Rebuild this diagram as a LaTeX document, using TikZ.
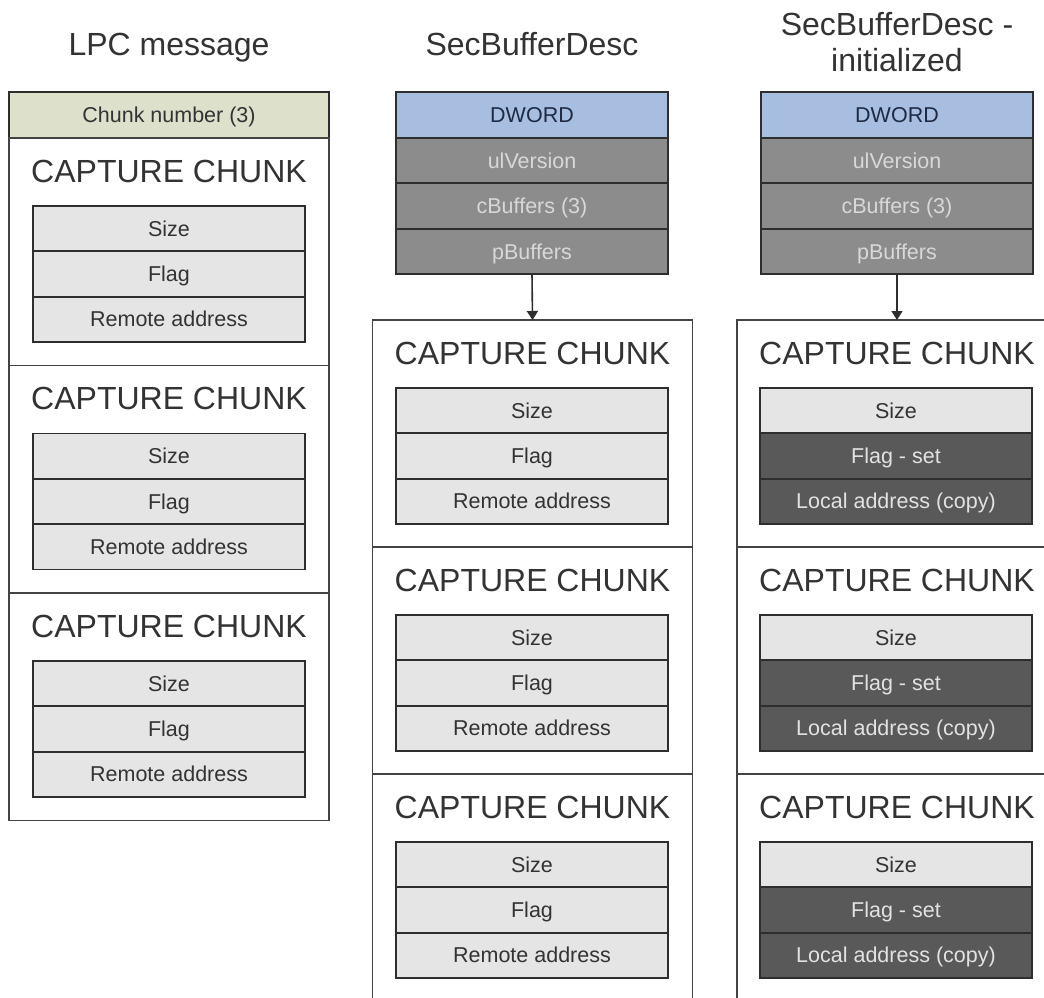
\documentclass[tikz,border=0pt]{standalone}
\usepackage{fontspec}
\setmainfont{Liberation Sans}
\usetikzlibrary{arrows.meta}
\definecolor{txt}{HTML}{333333}
\definecolor{edge}{HTML}{2E2E2E}
\definecolor{lightrow}{HTML}{E5E5E5}
\definecolor{darkrow}{HTML}{595959}
\definecolor{darktxt}{HTML}{E2E2E2}
\definecolor{midrow}{HTML}{8C8C8C}
\definecolor{midtxt}{HTML}{D8D8D8}
\definecolor{dwordc}{HTML}{A8BEE0}
\definecolor{dwordtxt}{HTML}{1F2A44}
\definecolor{hdrc}{HTML}{DDE1CC}
\tikzset{
  every node/.style={inner sep=0pt, outer sep=0pt},
  cell/.style={draw=edge, line width=1.8pt, minimum width=272pt, minimum height=45.3pt,
    text height=15.4pt, text depth=0pt,
    font=\fontsize{21.5}{25}\selectfont, text=txt},
  light/.style={cell, fill=lightrow},
  dark/.style={cell, fill=darkrow, text=darktxt},
  mid/.style={cell, fill=midrow, text=midtxt, minimum height=45.5pt},
  dword/.style={cell, fill=dwordc, text=dwordtxt, minimum height=45.5pt},
  hdr/.style={cell, fill=hdrc, minimum width=320pt, minimum height=46pt},
  chunkbox/.style={draw=edge!90, line width=1.6pt, minimum width=320pt, minimum height=227.5pt},
  bigtext/.style={font=\fontsize{32}{38}\selectfont, text=txt, anchor=base},
  title/.style={font=\fontsize{32}{38}\selectfont, text=txt, anchor=base},
  arrowline/.style={draw=edge, line width=1.6pt, -{Triangle[length=9pt,width=11pt]}},
}
\newcommand\capchunk[7]{%
  \node[chunkbox] (#1) at (#2,#3+113.75) {};
  \node[bigtext] (#1t) at (#2,#3+44) {CAPTURE CHUNK};
  \node[light] (#1a) at (#4,#3+68+22.65) {Size};
  \node[#5] (#1b) at (#4,#3+68+45.3+22.65) {#6};
  \node[#5] (#1c) at (#4,#3+68+90.6+22.65) {#7};
}
\begin{document}
\begin{tikzpicture}[x=1pt,y=-1pt]
\useasboundingbox (0,0) rectangle (1044,998);
\clip (0,0) rectangle (1044,998);
\fill[white] (0,0) rectangle (1044,998);

% titles
\node[title] (t1) at (169,56) {LPC message};
\node[title] (t2) at (532,56) {SecBufferDesc};
\node[title] (t3a) at (897,36) {SecBufferDesc -};
\node[title] (t3b) at (897,72) {initialized};

% column 1: LPC message
\node[hdr] (hdr) at (169,115) {Chunk number (3)};
\capchunk{a1}{169}{138}{169}{light}{Flag}{Remote address}
\capchunk{a2}{169}{365.5}{169}{light}{Flag}{Remote address}
\capchunk{a3}{169}{593}{169}{light}{Flag}{Remote address}

% column 2: SecBufferDesc
\node[dword] (b0) at (532,115) {DWORD};
\node[mid] (b1) at (532,160.5) {ulVersion};
\node[mid] (b2) at (532,206) {cBuffers (3)};
\node[mid] (b3) at (532,251.5) {pBuffers};
\capchunk{bk1}{532.5}{320}{532}{light}{Flag}{Remote address}
\capchunk{bk2}{532.5}{547}{532}{light}{Flag}{Remote address}
\capchunk{bk3}{532.5}{774}{532}{light}{Flag}{Remote address}
\draw[arrowline] (b3.south) -- (bk1.north);

% column 3: SecBufferDesc - initialized
\node[dword] (c0) at (897,115) {DWORD};
\node[mid] (c1) at (897,160.5) {ulVersion};
\node[mid] (c2) at (897,206) {cBuffers (3)};
\node[mid] (c3) at (897,251.5) {pBuffers};
\capchunk{ck1}{897}{320}{896}{dark}{Flag - set}{Local address (copy)}
\capchunk{ck2}{897}{547}{896}{dark}{Flag - set}{Local address (copy)}
\capchunk{ck3}{897}{774}{896}{dark}{Flag - set}{Local address (copy)}
\draw[arrowline] (c3.south) -- (ck1.north);
\end{tikzpicture}
\end{document}
